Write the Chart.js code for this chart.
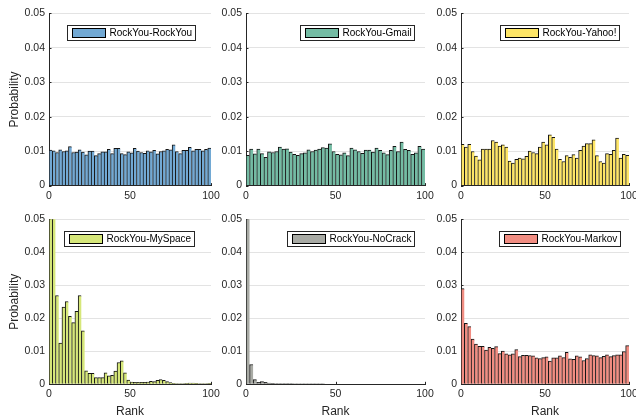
<!DOCTYPE html>
<html><head><meta charset="utf-8">
<script src="https://cdn.jsdelivr.net/npm/chart.js@4"></script>
<style>
html,body{margin:0;padding:0;background:#fff;}
#fig{position:relative;width:636px;height:418px;overflow:hidden;background:#fff;}
canvas{position:absolute;}
</style></head><body><div id="fig"></div>
<script>
// ---------------- DATA ----------------
const rankMin = 0;
const rankMax = 100;
const binWidth = 2;                       // each bar covers 2 ranks (50 bins)
const yTicks = [0, 0.01, 0.02, 0.03, 0.04, 0.05];
const yTickLabels = ['0', '0.01', '0.02', '0.03', '0.04', '0.05'];
const xTicks = [0, 50, 100];
const xTickLabels = ['0', '50', '100'];
const yTitle = 'Probability';
const xTitle = 'Rank';

const seriesNames = ['RockYou-RockYou', 'RockYou-Gmail', 'RockYou-Yahoo!',
                     'RockYou-MySpace', 'RockYou-NoCrack', 'RockYou-Markov'];

const rockyouRockyou = [0.0103,0.0101,0.0096,0.0104,0.0099,0.0101,0.0113,0.0096,0.0097,0.0104,
  0.0097,0.0089,0.0100,0.0100,0.0087,0.0093,0.0098,0.0098,0.0105,0.0093,
  0.0108,0.0108,0.0093,0.0090,0.0098,0.0095,0.0108,0.0100,0.0096,0.0094,
  0.0101,0.0098,0.0102,0.0092,0.0099,0.0101,0.0105,0.0104,0.0118,0.0099,
  0.0093,0.0102,0.0102,0.0111,0.0101,0.0105,0.0105,0.0101,0.0105,0.0109];
const rockyouGmail = [0.0088,0.0106,0.0092,0.0106,0.0093,0.0082,0.0098,0.0096,0.0099,0.0112,
  0.0106,0.0107,0.0097,0.0091,0.0088,0.0093,0.0095,0.0104,0.0099,0.0103,
  0.0106,0.0110,0.0109,0.0121,0.0099,0.0091,0.0089,0.0095,0.0087,0.0109,
  0.0104,0.0099,0.0094,0.0103,0.0103,0.0097,0.0109,0.0102,0.0095,0.0090,
  0.0102,0.0114,0.0099,0.0126,0.0105,0.0102,0.0091,0.0095,0.0114,0.0106];
const rockyouYahoo = [0.0120,0.0112,0.0120,0.0099,0.0086,0.0075,0.0106,0.0106,0.0106,0.0131,
  0.0126,0.0115,0.0118,0.0112,0.0071,0.0065,0.0076,0.0080,0.0078,0.0085,
  0.0100,0.0096,0.0093,0.0112,0.0126,0.0118,0.0147,0.0140,0.0106,0.0076,
  0.0070,0.0087,0.0082,0.0090,0.0080,0.0102,0.0115,0.0122,0.0122,0.0133,
  0.0087,0.0070,0.0065,0.0093,0.0091,0.0102,0.0138,0.0080,0.0091,0.0088];
const rockyouMyspace = [0.083,0.058,0.0269,0.0125,0.0234,0.0251,0.0206,0.0187,0.0221,0.0269,
  0.0162,0.0041,0.0033,0.0033,0.0020,0.0020,0.0020,0.0035,0.0026,0.0027,
  0.0040,0.0066,0.0071,0.0035,0.0013,0.0007,0.0006,0.0006,0.0006,0.0006,
  0.0007,0.0009,0.0008,0.0012,0.0014,0.0012,0.0008,0.0005,0.0003,0.0002,
  0.0002,0.0002,0.0003,0.0004,0.0004,0.0003,0.0002,0.0002,0.0002,0.0003];
const rockyouNocrack = [0.50,0.0060,0.0014,0.0006,0.0008,0.0006,0.0004,0.0003,0.0002,0.0002,
  0.0002,0.0002,0.0002,0.0001,0.0001,0.0001,0.0001,0.0001,0.0001,0.0001,
  0.0001,0.0001,0,0,0,0,0,0,0,0,
  0,0,0,0,0,0,0,0,0,0,
  0,0,0,0,0,0,0,0,0,0];
const rockyouMarkov = [0.0290,0.0185,0.0175,0.0137,0.0122,0.0115,0.0115,0.0104,0.0112,0.0109,
  0.0114,0.0093,0.0101,0.0092,0.0089,0.0092,0.0105,0.0084,0.0088,0.0088,
  0.0087,0.0086,0.0080,0.0078,0.0081,0.0083,0.0070,0.0080,0.0080,0.0086,
  0.0081,0.0097,0.0077,0.0076,0.0086,0.0083,0.0072,0.0078,0.0089,0.0087,
  0.0086,0.0081,0.0085,0.0089,0.0084,0.0087,0.0089,0.0089,0.0099,0.0117];

// ---------------- LAYOUT / STYLE ----------------
const FONT = '"Liberation Sans", Arial, Helvetica, sans-serif';
const TXT = '#262626';
const panels = [
  {vals: rockyouRockyou, color: '#72a9d4', L: 49,  R: 211, T: 11,   B: 185.6, leftCol: true,  bottomRow: false, inset: 16.7},
  {vals: rockyouGmail,   color: '#74bca4', L: 246, R: 425, T: 11,   B: 185.6, leftCol: false, bottomRow: false, inset: 10.7},
  {vals: rockyouYahoo,   color: '#fde567', L: 461, R: 629, T: 11,   B: 185.6, leftCol: false, bottomRow: false, inset: 10.3},
  {vals: rockyouMyspace, color: '#d6e77a', L: 49,  R: 211, T: 217.6, B: 384.3, leftCol: true,  bottomRow: true,  inset: 17.5},
  {vals: rockyouNocrack, color: '#a8aaa4', L: 246, R: 425, T: 217.6, B: 384.3, leftCol: false, bottomRow: true,  inset: 11.5},
  {vals: rockyouMarkov,  color: '#f18d82', L: 461, R: 629, T: 217.6, B: 384.3, leftCol: false, bottomRow: true,  inset: 9.5},
];

const legendBox = {
  id: 'legendBox',
  afterDraw(chart, args, opts) {
    const {ctx, chartArea} = chart;
    const ds = chart.data.datasets[0];
    ctx.save();
    ctx.font = '10px ' + FONT;
    const tw = ctx.measureText(ds.label).width;
    const h = 15, w = 5 + 33 + 4 + tw + 3;
    const x = Math.round(chartArea.right - opts.inset - w) + 0.5;
    const y = Math.round(chartArea.top + 11.5) + 0.5;
    ctx.fillStyle = '#fff';
    ctx.fillRect(x, y, w, h);
    ctx.strokeStyle = '#262626';
    ctx.lineWidth = 1;
    ctx.strokeRect(x, y, Math.round(w), h);
    ctx.fillStyle = ds.backgroundColor;
    ctx.fillRect(x + 5, y + 3, 33, 9);
    ctx.strokeStyle = '#000';
    ctx.strokeRect(x + 5, y + 3, 33, 9);
    ctx.fillStyle = '#000';
    ctx.textBaseline = 'middle';
    ctx.textAlign = 'left';
    ctx.fillText(ds.label, x + 5 + 33 + 4, y + h / 2 + 0.5);
    ctx.restore();
  }
};

const innerTicks = {
  id: 'innerTicks',
  beforeDatasetsDraw(chart) {
    const {ctx, chartArea, scales} = chart;
    ctx.save();
    ctx.strokeStyle = TXT;
    ctx.lineWidth = 1;
    ctx.beginPath();
    xTicks.forEach(v => {
      const px = Math.round(scales.x.getPixelForValue(v)) + 0.5;
      ctx.moveTo(px, chartArea.bottom); ctx.lineTo(px, chartArea.bottom - 2.5);
    });
    yTicks.forEach(v => {
      const py = Math.round(scales.y.getPixelForValue(v)) + 0.5;
      ctx.moveTo(chartArea.left, py); ctx.lineTo(chartArea.left + 2.5, py);
    });
    ctx.stroke();
    ctx.restore();
  }
};

const fig = document.getElementById('fig');
panels.forEach((p, i) => {
  const yAxisW = 49, padRight = 14;
  const canvasLeft = p.L - yAxisW;
  const canvasW = (p.R - p.L) + yAxisW + padRight;
  const canvasTop = Math.floor(p.T) - 8;
  const padTop = p.T - canvasTop;
  const areaH = p.B - p.T;
  const canvasH = Math.ceil(padTop + areaH + 34);
  const xAxisH = canvasH - padTop - areaH;

  const cv = document.createElement('canvas');
  cv.width = canvasW; cv.height = canvasH;
  cv.style.left = canvasLeft + 'px'; cv.style.top = canvasTop + 'px';
  cv.style.width = canvasW + 'px'; cv.style.height = canvasH + 'px';
  fig.appendChild(cv);

  new Chart(cv, {
    type: 'bar',
    data: {
      datasets: [{
        label: seriesNames[i],
        data: p.vals.map((v, k) => ({x: rankMin + binWidth * k + binWidth / 2, y: v})),
        backgroundColor: p.color,
        borderColor: '#141414',
        borderWidth: {left: 1, top: 1, right: 0, bottom: 0},
        borderSkipped: false,
        barPercentage: 1,
        categoryPercentage: 1,
      }]
    },
    options: {
      responsive: false,
      devicePixelRatio: 1,
      animation: false,
      events: [],
      layout: {padding: {top: padTop, right: padRight, left: 0, bottom: 0}, autoPadding: false},
      plugins: {legend: {display: false}, tooltip: {enabled: false}, legendBox: {inset: p.inset}},
      scales: {
        x: {
          type: 'linear', min: rankMin, max: rankMax, offset: false,
          afterBuildTicks: s => { s.ticks = xTicks.map(v => ({value: v})); },
          afterFit: s => { s.height = xAxisH; },
          grid: {display: false, drawTicks: false},
          border: {display: true, color: TXT, width: 1},
          ticks: {color: TXT, font: {family: FONT, size: 10.5}, padding: 4, maxRotation: 0,
                  callback: v => xTickLabels[xTicks.indexOf(v)]},
          title: {display: p.bottomRow, text: xTitle, color: TXT, font: {family: FONT, size: 12}, padding: {top: 0, bottom: 0}}
        },
        y: {
          min: 0, max: 0.05,
          afterBuildTicks: s => { s.ticks = yTicks.map(v => ({value: v})); },
          afterFit: s => { s.width = yAxisW; },
          grid: {color: '#e3e3e3', lineWidth: 1, drawTicks: false},
          border: {display: true, color: TXT, width: 1},
          ticks: {color: TXT, font: {family: FONT, size: 10.5}, padding: 4,
                  callback: v => yTickLabels[yTicks.indexOf(v)]},
          title: {display: p.leftCol, text: yTitle, color: TXT, font: {family: FONT, size: 12}, padding: {top: 7, bottom: 0}}
        }
      }
    },
    plugins: [innerTicks, legendBox]
  });
});
</script></body></html>
